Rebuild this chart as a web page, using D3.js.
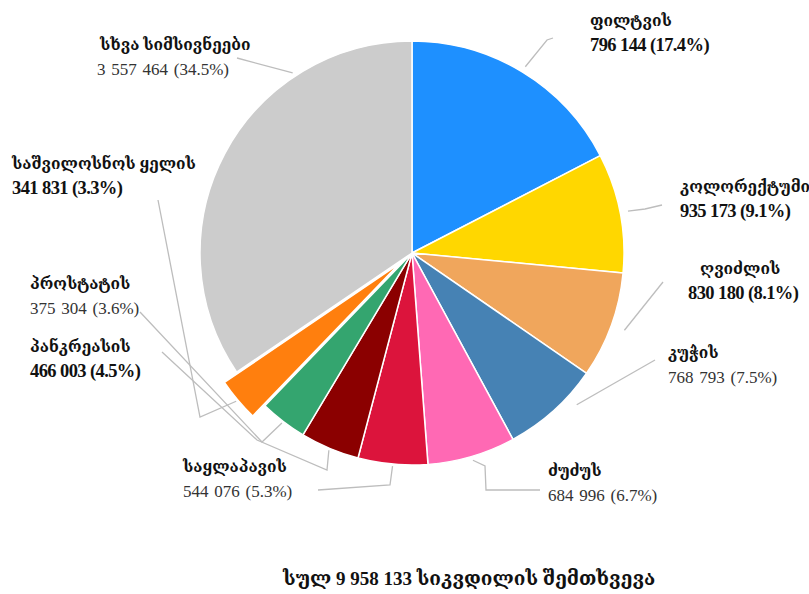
<!DOCTYPE html>
<html>
<head>
<meta charset="utf-8">
<script src="https://cdn.jsdelivr.net/npm/d3@7"></script>
<style>
  html, body { margin: 0; padding: 0; background: #ffffff; }
  svg { display: block; }
  text { font-family: "Liberation Serif", "DejaVu Serif", serif; fill: #111; }
  .name { font-weight: bold; font-size: 15.5px; }
  .val { font-size: 17px; fill: #333; word-spacing: 1.5px; }
  .val.b { font-weight: bold; font-size: 18.5px; fill: #111; letter-spacing: -0.6px; word-spacing: 0; }
  .title { font-size: 19px; font-weight: bold; }
</style>
</head>
<body>
<svg id="chart" width="809" height="594"></svg>
<script>
// Cancer deaths by site
const categories = ["ფილტვის", "კოლორექტუმი", "ღვიძლის", "კუჭის", "ძუძუს",
  "საყლაპავის", "პანკრეასის", "პროსტატის", "საშვილოსნოს ყელის", "სხვა სიმსივნეები"];
const deaths = [796144, 935173, 830180, 768793, 684996, 544076, 466003, 375304, 341831, 3557464];
const shares = [17.4, 9.1, 8.1, 7.5, 6.7, 5.3, 4.5, 3.6, 3.3, 34.5];
const boldValue = [true, true, true, false, false, false, true, false, true, false];
const totalDeaths = 9958133;

const colors = ["#1e90ff", "#ffd700", "#f0a65c", "#4682b4", "#ff69b4",
  "#dc143c", "#8b0000", "#34a56f", "#ff7f0e", "#cccccc"];

// label placement: text anchor, where the leader leaves the slice
// (fraction across the slice, gap beyond the rim) and its elbows
const layout = [
  { x: 590, y: 26, at: 0.5, gap: 6, bend: [[547, 40], [553, 38]] },
  { x: 680, y: 192, at: 0.5, gap: 8, bend: [[645, 209], [662, 205]] },
  { x: 700, y: 274, vx: 688, at: 0.5, gap: 14, bend: [[663, 282]] },
  { x: 668, y: 358, at: 0.3, gap: 12, bend: [[655, 360]] },
  { x: 548, y: 476, at: 0.5, gap: 4, bend: [[485, 466], [486, 490], [540, 490]] },
  { x: 183, y: 472, at: 0.5, gap: 2, bend: [[390, 485], [318, 490]] },
  { x: 30, y: 352, at: 0.5, gap: 2, bend: [[327, 470], [257, 440], [162, 352]] },
  { x: 30, y: 289, at: 0.5, gap: 2, bend: [[262, 442], [140, 312]] },
  { x: 12, y: 169, at: 0.5, gap: 2, bend: [[200, 417], [158, 200]] },
  { x: 100, y: 50, vx: 97, at: 0.73, gap: 4, bend: [[237, 58]] }
];
const explode = [0, 0, 0, 0, 0, 0, 0, 0, 16, 0];

const fmt = n => d3.format(",")(n).replace(/,/g, " ");

const svg = d3.select("#chart");
const cx = 412, cy = 253, R = 212;
const g = svg.append("g").attr("transform", `translate(${cx},${cy})`);

const pie = d3.pie().sort(null).value(d => d);
const arcs = pie(shares);
const arc = d3.arc().innerRadius(0).outerRadius(R);

const mid = a => (a.startAngle + a.endAngle) / 2;
const polar = (ang, r) => [Math.sin(ang) * r, -Math.cos(ang) * r];

// leader lines
const line = d3.line();
arcs.forEach((a, i) => {
  const L = layout[i];
  const ang = a.startAngle + (a.endAngle - a.startAngle) * L.at;
  const [ex, ey] = polar(mid(a), explode[i]);
  const [ax, ay] = polar(ang, R + L.gap);
  const pts = [[ax + ex, ay + ey]].concat(L.bend.map(p => [p[0] - cx, p[1] - cy]));
  g.append("path")
    .attr("d", line(pts))
    .attr("fill", "none")
    .attr("stroke", "#bdbdbd")
    .attr("stroke-width", 1.3);
});

// slices
g.selectAll("path.slice")
  .data(arcs)
  .join("path")
  .attr("class", "slice")
  .attr("transform", (a, i) => {
    const [dx, dy] = polar(mid(a), explode[i]);
    return `translate(${dx},${dy})`;
  })
  .attr("d", arc)
  .attr("fill", (a, i) => colors[i])
  .attr("stroke", "#ffffff")
  .attr("stroke-width", 1.5)
  .attr("stroke-linejoin", "round");

// labels
categories.forEach((c, i) => {
  const L = layout[i];
  svg.append("text").attr("class", "name").attr("x", L.x).attr("y", L.y).text(c);
  svg.append("text")
    .attr("class", boldValue[i] ? "val b" : "val")
    .attr("x", L.vx !== undefined ? L.vx : L.x)
    .attr("y", L.y + 25)
    .text(`${fmt(deaths[i])} (${shares[i]}%)`);
});

svg.append("text")
  .attr("class", "title")
  .attr("x", 283)
  .attr("y", 585)
  .text(`სულ ${fmt(totalDeaths)} სიკვდილის  შემთხვევა`);
</script>
</body>
</html>
